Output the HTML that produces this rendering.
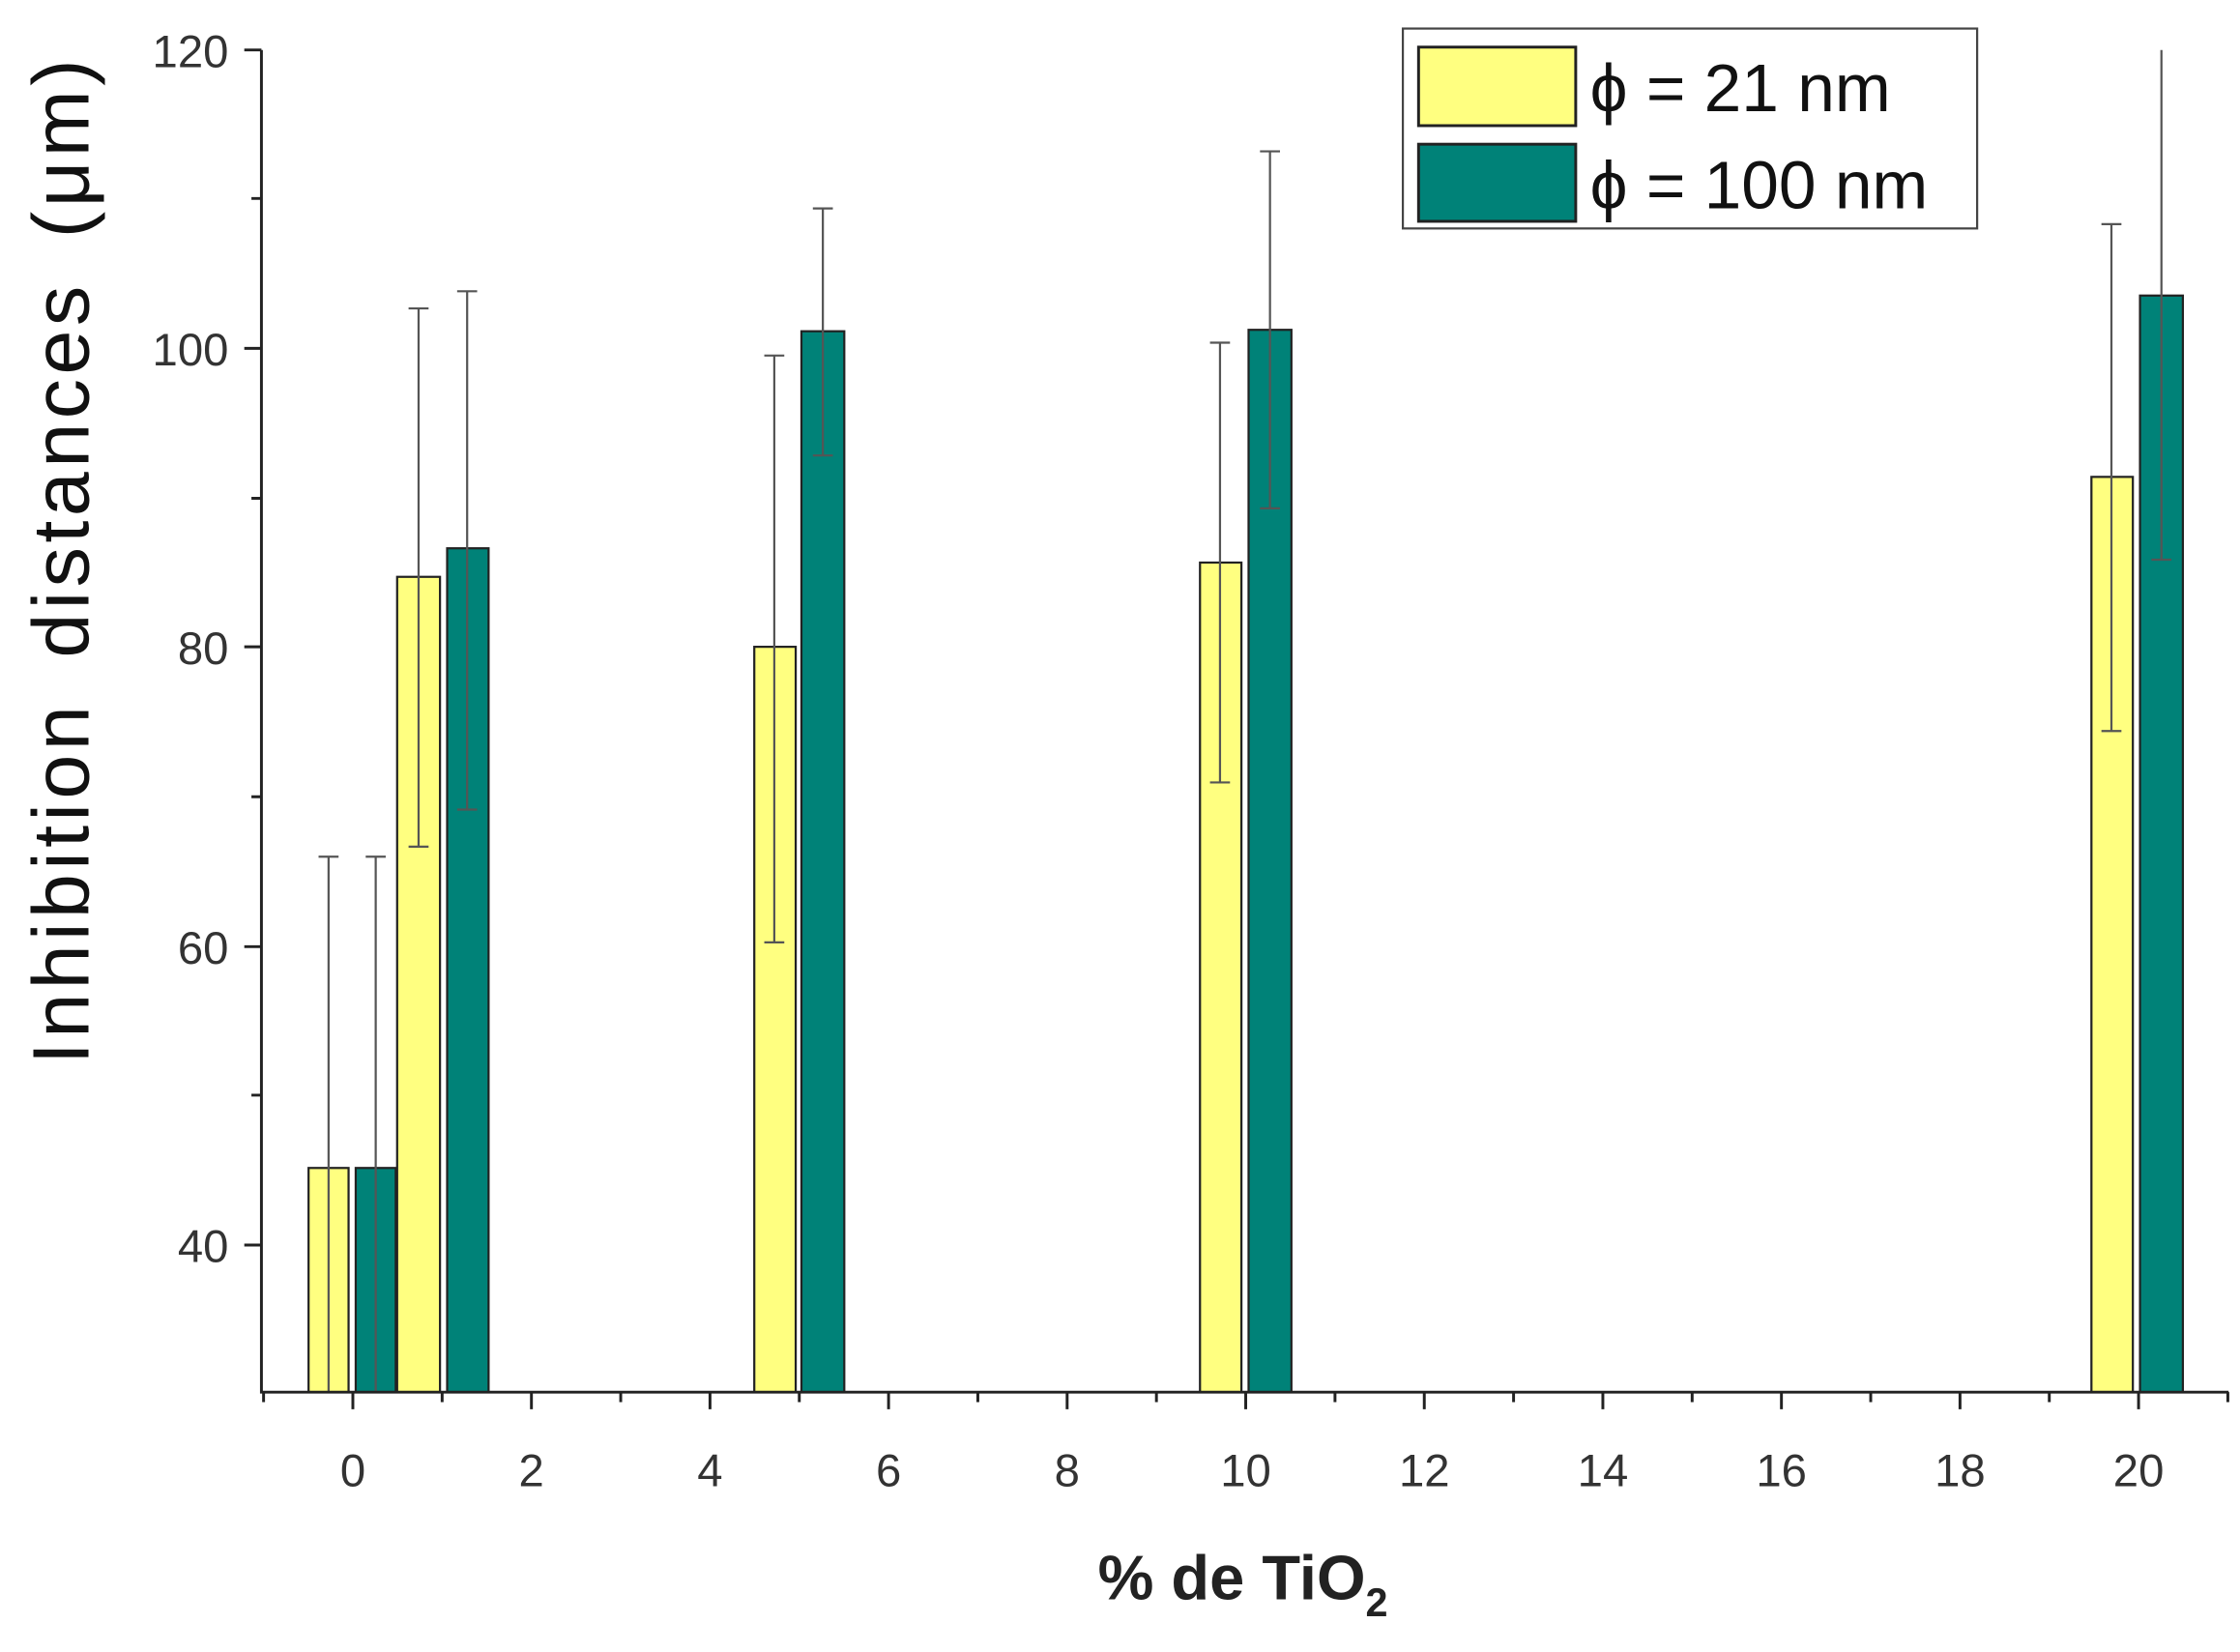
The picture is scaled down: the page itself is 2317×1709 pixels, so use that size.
<!DOCTYPE html>
<html><head><style>html,body{margin:0;padding:0;background:#fff}svg{display:block}</style></head>
<body>
<svg width="2317" height="1709" viewBox="0 0 1568 1157" preserveAspectRatio="none" xmlns="http://www.w3.org/2000/svg" font-family="Liberation Sans, Arial, sans-serif">
<rect width="1568" height="1157" fill="#fff"/>
<g stroke="#222" stroke-width="1.5">
<rect x="216" y="818" width="28" height="157" fill="#ffff80"/>
<rect x="249" y="818" width="28" height="157" fill="#008278"/>
<rect x="278" y="404" width="30" height="571" fill="#ffff80"/>
<rect x="313" y="384" width="29" height="591" fill="#008278"/>
<rect x="528" y="453" width="29" height="522" fill="#ffff80"/>
<rect x="561" y="232" width="30" height="743" fill="#008278"/>
<rect x="840" y="394" width="29" height="581" fill="#ffff80"/>
<rect x="874" y="231" width="30" height="744" fill="#008278"/>
<rect x="1464" y="334" width="29" height="641" fill="#ffff80"/>
<rect x="1498" y="207" width="30" height="768" fill="#008278"/>
</g>
<g stroke="#555" stroke-width="1.5" fill="none">
<path d="M230 600V975M223 600h14"/>
<path d="M263 600V975M256 600h14"/>
<path d="M293 216V593M286 216h14M286 593h14"/>
<path d="M327 204V567M320 204h14M320 567h14"/>
<path d="M542 249V660M535 249h14M535 660h14"/>
<path d="M576 146V319M569 146h14M569 319h14"/>
<path d="M854 240V548M847 240h14M847 548h14"/>
<path d="M889 106V356M882 106h14M882 356h14"/>
<path d="M1478 157V512M1471 157h14M1471 512h14"/>
<path d="M1513 35V392M1506 392h14"/>
</g>
<g stroke="#222" stroke-width="2" fill="none">
<path d="M183 35V975H1560"/>
<path d="M171 35h12M171 244h12M171 453h12M171 663h12M171 872h12"/>
<path d="M176 139h7M176 349h7M176 558h7M176 767h7"/>
<path d="M247 975v12M372 975v12M497 975v12M622 975v12M747 975v12M872 975v12M997 975v12M1122 975v12M1247 975v12M1372 975v12M1497 975v12"/>
<path d="M184.5 975v7M309.5 975v7M434.5 975v7M559.5 975v7M684.5 975v7M809.5 975v7M934.5 975v7M1059.5 975v7M1184.5 975v7M1309.5 975v7M1434.5 975v7M1559.5 975v7"/>
</g>
<g font-size="32" fill="#333" text-anchor="end">
<text x="160" y="47">120</text><text x="160" y="256">100</text><text x="160" y="465">80</text><text x="160" y="675">60</text><text x="160" y="884">40</text>
</g>
<g font-size="32" fill="#333" text-anchor="middle">
<text x="247" y="1041">0</text><text x="372" y="1041">2</text><text x="497" y="1041">4</text><text x="622" y="1041">6</text><text x="747" y="1041">8</text><text x="872" y="1041">10</text><text x="997" y="1041">12</text><text x="1122" y="1041">14</text><text x="1247" y="1041">16</text><text x="1372" y="1041">18</text><text x="1497" y="1041">20</text>
</g>
<text x="870" y="1120" font-size="44" font-weight="bold" fill="#222" text-anchor="middle">% de TiO<tspan font-size="28" dy="12">2</tspan></text>
<text transform="translate(62,392) rotate(-90)" font-size="56" fill="#111" text-anchor="middle" letter-spacing="3" word-spacing="12">Inhibition distances (μm)</text>
<rect x="982" y="20" width="402" height="140" fill="#fff" stroke="#444" stroke-width="1.5"/>
<rect x="993" y="33" width="110" height="55" fill="#ffff80" stroke="#222" stroke-width="2"/>
<rect x="993" y="101" width="110" height="54" fill="#008278" stroke="#222" stroke-width="2"/>
<g font-size="47" fill="#111"><text x="1113" y="78">ϕ = 21 nm</text><text x="1113" y="146">ϕ = 100 nm</text></g>
</svg>
</body></html>
